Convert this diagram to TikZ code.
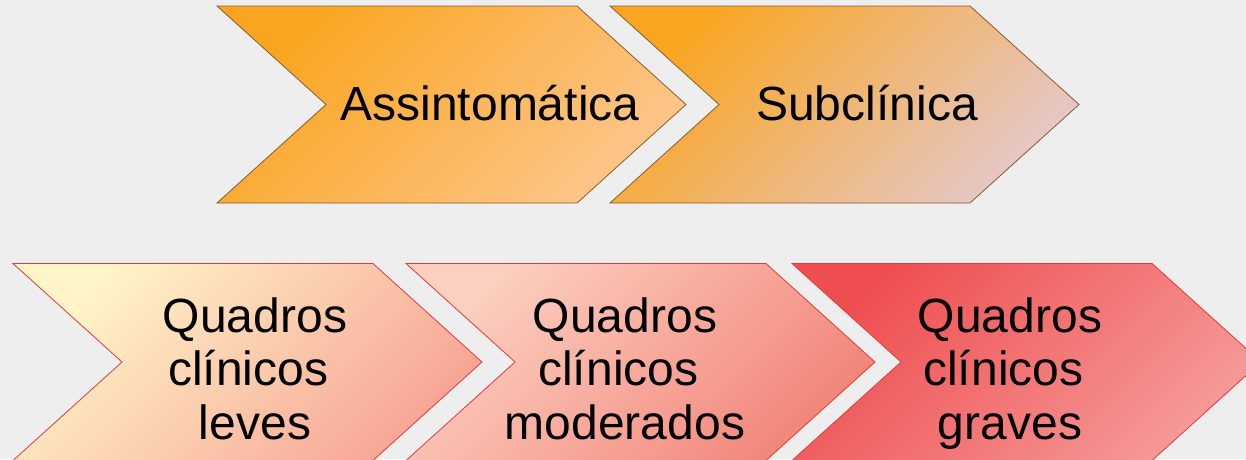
\documentclass[tikz,border=0pt]{standalone}
\usepackage{fontspec}
\setmainfont{Liberation Sans}
\usetikzlibrary{positioning}
\definecolor{bgcol}{RGB}{238,238,238}
\definecolor{orangeA}{RGB}{249,165,31}
\definecolor{orangeB}{RGB}{253,197,138}
\definecolor{orangeC}{RGB}{229,199,199}
\definecolor{topedge}{RGB}{139,90,43}
\definecolor{rededge}{RGB}{232,56,60}
\definecolor{paleA}{RGB}{255,245,200}
\definecolor{paleB}{RGB}{247,165,149}
\definecolor{roseA}{RGB}{252,208,192}
\definecolor{roseB}{RGB}{242,133,122}
\definecolor{deepA}{RGB}{239,78,80}
\definecolor{deepB}{RGB}{245,154,152}
\tikzset{
        x=1pt, y=-1pt,
        toprow/.style={draw=topedge, line width=0.8pt},
        botrow/.style={draw=rededge, line width=0.8pt},
        phase/.style={inner sep=0pt, anchor=base, align=center,
                font=\fontsize{48}{53.5}\selectfont}
        }
% chevron from its top left corner
\newcommand{\chevron}[3]{%
  \shade[#3, shading angle=45] (#1,#2) -- ++(360,0) -- ++(109,98.5) -- ++(-109,98.5)
        -- ++(-360,0) -- ++(109,-98.5) -- cycle;}

\begin{document}
\begin{tikzpicture}
        \useasboundingbox[fill=bgcol] (0,0) rectangle (1246,459);
        \clip (0,0) rectangle (1246,459);
        % first row
        \chevron{217}{6}{toprow, top color=orangeA, bottom color=orangeB}
        \chevron{610}{6}{toprow, top color=orangeA, bottom color=orangeC}
        % second row
        \chevron{13}{263.5}{botrow, top color=paleA, bottom color=paleB}
        \chevron{406}{263.5}{botrow, top color=roseA, bottom color=roseB}
        \chevron{792}{263.5}{botrow, top color=deepA, bottom color=deepB}
        \node[phase] (assint) at (490,120) {Assintomática};
        \node[phase] (subcl) at (867,120) {Subclínica};
        \node[phase] (leves) at (255,439) {Quadros\\clínicos\mbox{\ }\\leves};
        \node[phase] (moder) at (625,439) {Quadros\\clínicos\mbox{\ }\\moderados};
        \node[phase] (graves) at (1010,439) {Quadros\\clínicos\mbox{\ }\\graves};
\end{tikzpicture}
\end{document}
